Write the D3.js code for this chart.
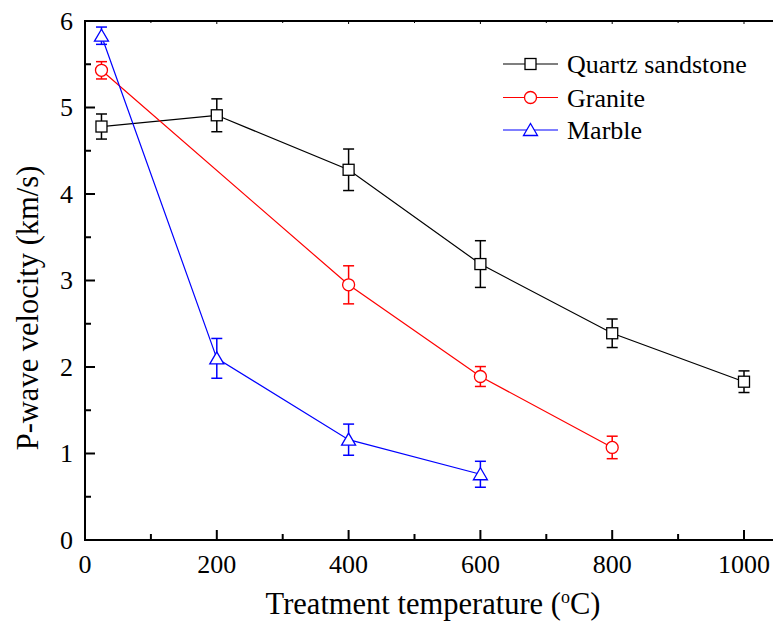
<!DOCTYPE html>
<html><head><meta charset="utf-8">
<script src="https://cdn.jsdelivr.net/npm/d3@7"></script>
<style>body{margin:0;background:#fff}svg{display:block}</style>
</head><body>
<svg id="c" width="773" height="624"></svg>
<script>
const temps = {
  quartz: [25, 200, 400, 600, 800, 1000],
  granite: [25, 400, 600, 800],
  marble: [25, 200, 400, 600]
};
const quartzVel = [4.78, 4.91, 4.28, 3.19, 2.39, 1.83];
const quartzErr = [0.145, 0.19, 0.24, 0.27, 0.165, 0.125];
const graniteVel = [5.43, 2.95, 1.89, 1.07];
const graniteErr = [0.10, 0.22, 0.115, 0.13];
const marbleVel = [5.83, 2.10, 1.16, 0.76];
const marbleErr = [0.10, 0.23, 0.18, 0.15];
const seriesNames = ["Quartz sandstone", "Granite", "Marble"];
const xTicks = [0, 200, 400, 600, 800, 1000];
const yTicks = [0, 1, 2, 3, 4, 5, 6];

const FONT = "'Liberation Serif', 'Times New Roman', Times, 'DejaVu Serif', serif";

const series = [
  {name: seriesNames[0], color: "#000000", shape: "square", x: temps.quartz, y: quartzVel, e: quartzErr},
  {name: seriesNames[1], color: "#ff0000", shape: "circle", x: temps.granite, y: graniteVel, e: graniteErr},
  {name: seriesNames[2], color: "#0000ff", shape: "triangle", x: temps.marble, y: marbleVel, e: marbleErr}
];

const svg = d3.select("#c");
const x = d3.scaleLinear().domain([0, 1050]).range([85, 85 + 0.659 * 1050]);
const y = d3.scaleLinear().domain([0, 6]).range([540, 21]);

// frame
const g = svg.append("g");
g.append("line").attr("x1", x(0)).attr("x2", 773).attr("y1", y(0)).attr("y2", y(0)).attr("stroke", "#000").attr("stroke-width", 2);
g.append("line").attr("x1", x(0)).attr("x2", 773).attr("y1", y(6)).attr("y2", y(6)).attr("stroke", "#000").attr("stroke-width", 2);
g.append("line").attr("x1", x(0)).attr("x2", x(0)).attr("y1", y(0)+1).attr("y2", y(6)-1).attr("stroke", "#000").attr("stroke-width", 2);

// x ticks
const xMinor = d3.range(100, 1050, 200);
xTicks.forEach(v => {
  g.append("line").attr("x1", x(v)).attr("x2", x(v)).attr("y1", y(0)).attr("y2", y(0) - 10).attr("stroke", "#000").attr("stroke-width", 2);
  g.append("line").attr("x1", x(v)).attr("x2", x(v)).attr("y1", y(6)).attr("y2", y(6) + 3).attr("stroke", "#000").attr("stroke-width", 1);
  g.append("text").attr("x", x(v)).attr("y", 573).attr("text-anchor", "middle").attr("font-family", FONT).attr("font-size", 26).text(v);
});
xMinor.forEach(v => {
  g.append("line").attr("x1", x(v)).attr("x2", x(v)).attr("y1", y(0)).attr("y2", y(0) - 6).attr("stroke", "#000").attr("stroke-width", 2);
  g.append("line").attr("x1", x(v)).attr("x2", x(v)).attr("y1", y(6)).attr("y2", y(6) + 2).attr("stroke", "#000").attr("stroke-width", 1);
});
// y ticks
yTicks.forEach(v => {
  g.append("line").attr("x1", x(0)).attr("x2", x(0) + 10).attr("y1", y(v)).attr("y2", y(v)).attr("stroke", "#000").attr("stroke-width", 2);
  g.append("text").attr("x", 73).attr("y", y(v)).attr("dy", "0.34em").attr("text-anchor", "end").attr("font-family", FONT).attr("font-size", 26).text(v);
});
d3.range(0.5, 6, 1).forEach(v => {
  g.append("line").attr("x1", x(0)).attr("x2", x(0) + 6).attr("y1", y(v)).attr("y2", y(v)).attr("stroke", "#000").attr("stroke-width", 2);
});

// axis titles
const xt = g.append("text").attr("x", 433).attr("y", 614).attr("text-anchor", "middle").attr("font-family", FONT).attr("font-size", 30.5);
xt.append("tspan").text("Treatment temperature (");
xt.append("tspan").attr("dy", -11).attr("font-size", 18).text("o");
xt.append("tspan").attr("dy", 11).text("C)");
g.append("text").attr("transform", "translate(38,308) rotate(-90)").attr("text-anchor", "middle").attr("font-family", FONT).attr("font-size", 30.5).text("P-wave velocity (km/s)");

function marker(sel, shape, color) {
  if (shape === "square") {
    sel.append("rect").attr("x", -5.5).attr("y", -5.5).attr("width", 11).attr("height", 11)
      .attr("fill", "#fff").attr("stroke", color).attr("stroke-width", 1.3);
  } else if (shape === "circle") {
    sel.append("circle").attr("r", 6).attr("fill", "#fff").attr("stroke", color).attr("stroke-width", 1.3);
  } else {
    sel.append("path").attr("d", "M0,-6.5 L7,5.5 L-7,5.5 Z").attr("fill", "#fff").attr("stroke", color).attr("stroke-width", 1.3);
  }
}

const line = d3.line().x(d => x(d[0])).y(d => y(d[1]));
series.forEach(s => {
  const pts = s.x.map((v, i) => [v, s.y[i], s.e[i]]);
  const sg = svg.append("g");
  sg.append("path").attr("d", line(pts)).attr("fill", "none").attr("stroke", s.color).attr("stroke-width", 1.2);
  pts.forEach(p => {
    const cx = x(p[0]);
    const eg = sg.append("g").attr("stroke", s.color).attr("stroke-width", 1.5);
    eg.append("line").attr("x1", cx).attr("x2", cx).attr("y1", y(p[1] + p[2])).attr("y2", y(p[1] - p[2]));
    eg.append("line").attr("x1", cx - 5.5).attr("x2", cx + 5.5).attr("y1", y(p[1] + p[2])).attr("y2", y(p[1] + p[2]));
    eg.append("line").attr("x1", cx - 5.5).attr("x2", cx + 5.5).attr("y1", y(p[1] - p[2])).attr("y2", y(p[1] - p[2]));
    marker(sg.append("g").attr("transform", `translate(${cx},${y(p[1])})`), s.shape, s.color);
  });
});

// legend
const legY = [64, 97.5, 130];
series.forEach((s, i) => {
  const lg = svg.append("g").attr("transform", `translate(0,${legY[i]})`);
  lg.append("line").attr("x1", 503).attr("x2", 558).attr("y1", 0).attr("y2", 0).attr("stroke", s.color).attr("stroke-width", 1.2);
  marker(lg.append("g").attr("transform", "translate(530.5,0)"), s.shape, s.color);
  lg.append("text").attr("x", 567).attr("y", 9).attr("font-family", FONT).attr("font-size", 26).text(s.name);
});
</script>
</body></html>
